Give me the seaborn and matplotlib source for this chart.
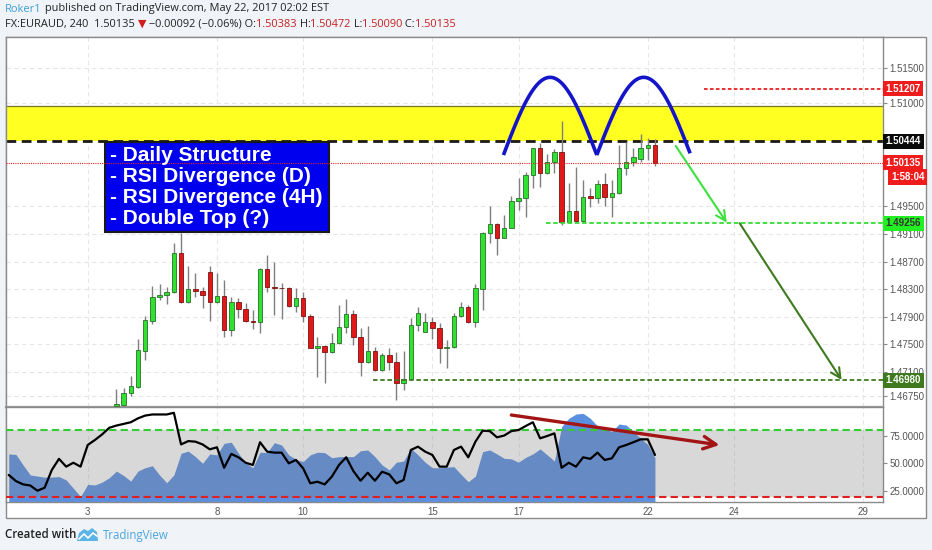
import numpy as np
import pandas as pd
import matplotlib
matplotlib.use("Agg")
import matplotlib.pyplot as plt
import matplotlib.transforms as mtransforms
from matplotlib.patches import Rectangle, Polygon
import seaborn as sns

W, H = 932, 550

# ---------------- data ----------------
first_candle_bar = 15
opens = [1.46608, 1.46622, 1.46792, 1.46887, 1.47409, 1.47844, 1.48183, 1.48216, 1.48260, 1.48829,
         1.48119, 1.48299, 1.48279, 1.48554, 1.48119, 1.48206, 1.47709, 1.48110, 1.48009, 1.47844,
         1.47821, 1.48589, 1.48337, 1.48322, 1.48313, 1.48057, 1.48168, 1.47912, 1.47452, 1.47481,
         1.47394, 1.47516, 1.47757, 1.47941, 1.47603, 1.47250, 1.47405, 1.47129, 1.47347, 1.47250,
         1.46945, 1.46999, 1.47781, 1.47684, 1.47821, 1.47734, 1.47444, 1.47467, 1.47912, 1.48038,
         1.47821, 1.48303, 1.49119, 1.49241, 1.49047, 1.49187, 1.49579, 1.49618, 1.49955, 1.50342,
         1.49980, 1.50148, 1.50293, 1.49270, 1.49438, 1.49293, 1.49651, 1.49618, 1.49825, 1.49632,
         1.49690, 1.50052, 1.50148, 1.50190, 1.50351, 1.50383]
highs = [1.46854, 1.46864, 1.47042, 1.47574, 1.47912, 1.48347, 1.48376, 1.48328, 1.48974, 1.49110,
         1.48637, 1.48539, 1.48328, 1.48637, 1.48539, 1.48434, 1.48192, 1.48168, 1.48096, 1.47999,
         1.48603, 1.48796, 1.48699, 1.48386, 1.48328, 1.48313, 1.48264, 1.47934, 1.47612, 1.47492,
         1.47661, 1.48071, 1.48163, 1.47999, 1.47734, 1.47767, 1.47467, 1.47371, 1.47444, 1.47394,
         1.47405, 1.47879, 1.48047, 1.47951, 1.47902, 1.47806, 1.47564, 1.47951, 1.48119, 1.48071,
         1.48371, 1.49130, 1.49506, 1.49255, 1.49376, 1.49644, 1.49908, 1.49999, 1.50347, 1.50415,
         1.50260, 1.50328, 1.50738, 1.49835, 1.50076, 1.49883, 1.49763, 1.49883, 1.49989, 1.49883,
         1.50390, 1.50438, 1.50342, 1.50550, 1.50487, 1.50472]
lows = [1.46521, 1.46550, 1.46752, 1.46868, 1.47274, 1.47796, 1.48144, 1.48086, 1.48238, 1.48096,
        1.48105, 1.48183, 1.48023, 1.47844, 1.48096, 1.47612, 1.47622, 1.47879, 1.47829, 1.47719,
        1.47661, 1.48264, 1.47926, 1.47864, 1.48042, 1.47974, 1.47829, 1.47444, 1.47032, 1.46937,
        1.47371, 1.47506, 1.47670, 1.47492, 1.47042, 1.47235, 1.47119, 1.47119, 1.47129, 1.46694,
        1.46839, 1.46984, 1.47699, 1.47680, 1.47574, 1.47235, 1.47154, 1.47450, 1.47897, 1.47815,
        1.47748, 1.47999, 1.48965, 1.48796, 1.49042, 1.49180, 1.49448, 1.49342, 1.49763, 1.49777,
        1.49966, 1.49989, 1.49231, 1.49255, 1.49279, 1.49279, 1.49496, 1.49545, 1.49506, 1.49351,
        1.49680, 1.49955, 1.50086, 1.50148, 1.50173, 1.50090]
closes = [1.46637, 1.46800, 1.46897, 1.47419, 1.47854, 1.48183, 1.48216, 1.48260, 1.48829, 1.48119,
          1.48299, 1.48279, 1.48216, 1.48119, 1.48202, 1.47709, 1.48110, 1.48009, 1.47844, 1.47821,
          1.48589, 1.48337, 1.48322, 1.48313, 1.48057, 1.48168, 1.47912, 1.47452, 1.47481, 1.47394,
          1.47516, 1.47757, 1.47941, 1.47603, 1.47250, 1.47405, 1.47129, 1.47347, 1.47250, 1.46945,
          1.46999, 1.47781, 1.47951, 1.47821, 1.47734, 1.47444, 1.47467, 1.47912, 1.48047, 1.47821,
          1.48313, 1.49119, 1.49241, 1.49047, 1.49187, 1.49579, 1.49618, 1.49955, 1.50342, 1.49989,
          1.50148, 1.50293, 1.49279, 1.49438, 1.49293, 1.49641, 1.49618, 1.49825, 1.49632, 1.49690,
          1.50052, 1.50148, 1.50212, 1.50351, 1.50383, 1.50135]

rsi_line = [39.5, 34, 31, 30, 25.3, 28, 44, 54, 47, 50.5,
            47, 66.5, 71, 76, 82, 84, 85.5, 87, 90.5, 93,
            94, 94, 94, 95.5, 67, 70, 69.5, 67, 62.6, 64.4,
            46, 58.4, 55.4, 50.5, 48.5, 69, 60.5, 59.6, 59.6, 50,
            53, 45.5, 32, 33.4, 31, 38, 48.5, 55.4, 43, 34.3,
            41.5, 34.3, 42.4, 40, 32, 35, 62, 65, 60.5, 57.5,
            47, 47, 62, 65, 55.4, 69.5, 79.4, 79, 73.4, 75,
            79, 80, 83.6, 87, 72.5, 74.6, 77, 46, 50.5, 47,
            55.4, 54, 59.6, 53, 54.5, 64.4, 66.5, 69, 71.6, 71.6,
            57.5]
rsi_area = [58.4, 58, 48.5, 39.5, 38.5, 37.5, 37.6, 38, 35, 27.5,
            20, 31, 30.5, 33, 37, 43, 39, 34, 43, 46,
            47.8, 39.5, 32.5, 39.5, 59, 61, 56, 50, 58.4, 57.6,
            68, 69, 59, 50.5, 46, 60, 59.6, 68.6, 66.5, 57.6,
            53.6, 51.5, 57.6, 60, 59.6, 55, 56, 56, 56, 61.3,
            62, 56, 48.5, 44, 51, 52, 63.5, 57.6, 51, 46,
            46, 46.5, 47, 40, 33.4, 38.5, 60.5, 62, 58.4, 54.5,
            54, 51, 55.4, 58.4, 63, 57.6, 52, 83, 90.5, 94.4,
            95, 90.5, 83.6, 81.5, 78.5, 85.4, 84.5, 78.5, 72.5, 67,
            55]

date_bars = [11, 29, 41, 59, 71, 89, 101, 119]
date_labels = ["3", "8", "10", "15", "17", "22", "24", "29"]
price_ticks = [1.515, 1.510, 1.495, 1.491, 1.487, 1.483, 1.479, 1.475, 1.471, 1.4675]
rsi_ticks = [25, 50, 75]
rsi_upper, rsi_lower = 80, 20

zone_low, zone_high = 1.50444, 1.50955
last_price = 1.50135
upper_level = 1.51207
neck_level = 1.49256
target_level = 1.46980
countdown = "1:58:04"

box_lines = ["- Daily Structure", "- RSI Divergence (D)", "- RSI Divergence (4H)", "- Double Top (?)"]

# ---------------- style ----------------
sns.set_style("white")
plt.rcParams['font.family'] = ['Liberation Sans', 'DejaVu Sans']

fig = plt.figure(figsize=(W / 100, H / 100), dpi=100)
fig.patch.set_facecolor('#f0f3f8')

frame = Rectangle((6 / W, 1 - 518 / H), (926 - 6) / W, (518 - 36.7) / H,
                  transform=fig.transFigure, facecolor='white', edgecolor='#8a8a8a',
                  lw=1, zorder=-10)
fig.add_artist(frame)

ax = fig.add_axes([6 / W, 1 - 406.7 / H, (882.7 - 6) / W, (406.7 - 36.7) / H])
axr = fig.add_axes([6 / W, 1 - 501.7 / H, (882.7 - 6) / W, (501.7 - 406.7) / H], sharex=ax)

xlim = (-0.38, 121.72)
ax.set_xlim(*xlim)
ax.set_ylim(1.46597, 1.51960)
axr.set_ylim(15.4, 101)

grid_kw = dict(color='#e6e6e6', lw=0.8, linestyle=(0, (4, 3)))
for a in (ax, axr):
    a.set_facecolor('white')
    a.set_axisbelow(True)
    for s in a.spines.values():
        s.set_color('#8a8a8a')
        s.set_linewidth(1)
    a.yaxis.tick_right()
    a.set_xticks(date_bars)
ax.spines['bottom'].set_linewidth(1.6)
ax.spines['bottom'].set_color('#9a9a9a')
ax.grid(True, **grid_kw)
axr.grid(True, axis='x', **grid_kw)

ax.set_yticks(price_ticks)
ax.set_yticklabels([f"{v:.5f}" for v in price_ticks])
ax.tick_params(axis='y', length=3, width=0.8, color='#888', pad=2, labelsize=7, labelcolor='#555')
ax.tick_params(axis='x', length=0, labelbottom=False)

axr.set_yticks(rsi_ticks)
axr.set_yticklabels([f"{v:.4f}" for v in rsi_ticks])
axr.tick_params(axis='y', length=3, width=0.8, color='#888', pad=2, labelsize=7, labelcolor='#555')
axr.set_xticklabels(date_labels)
axr.tick_params(axis='x', length=0, pad=4, labelsize=7, labelcolor='#555')

# ---------------- price pane ----------------
o = np.array(opens); h = np.array(highs); l = np.array(lows); c = np.array(closes)
xb = np.arange(len(o)) + first_candle_bar
up = c >= o
body_col = np.where(up, '#2fe22f', '#e01818')
edge_col = np.where(up, '#2b6e2b', '#7a1212')

ax.axhspan(zone_low, zone_high, color='#ffff22', zorder=1, lw=0)
ax.axhline(zone_high, color='#77772a', lw=0.9, zorder=1.2)
ax.axhline(zone_low, color='#1a1a1a', lw=2, linestyle=(0, (3.5, 2)), zorder=2)

ax.vlines(xb, l, h, color='#7f7f7f', lw=1, zorder=3)
ax.bar(xb, c - o, bottom=o, width=0.62, color=body_col, edgecolor=edge_col, lw=0.6, zorder=4)

# horizontal levels
ax.plot([96.8, xlim[1]], [upper_level, upper_level], color='#e52222', lw=1.3,
        linestyle=(0, (2, 1.3)), zorder=5)
ax.plot([74.8, xlim[1]], [neck_level, neck_level], color='#33dd33', lw=1.3,
        linestyle=(0, (2.5, 1.5)), zorder=5)
ax.plot([50.8, xlim[1]], [target_level, target_level], color='#3f7a1f', lw=1.3,
        linestyle=(0, (2.5, 1.5)), zorder=5)

# annotation box
box_x0, box_x1 = 13.41, 44.65
box_y0, box_y1 = 1.49125, 1.50438
ax.add_patch(Rectangle((box_x0, box_y0), box_x1 - box_x0, box_y1 - box_y0,
                       facecolor='#0000ee', edgecolor='#1a1a1a', lw=1.5, zorder=6))
ax.axhline(last_price, color='#e52222', lw=0.8, linestyle=(0, (1, 1)), zorder=7)
for i, line in enumerate(box_lines):
    ax.text(14.1, 1.50231 - i * 0.0030, line, color='white', fontsize=15,
            fontweight='bold', va='center', ha='left', zorder=8,
            family=['Liberation Sans', 'DejaVu Sans'])

# double top arcs
arc_x0 = [68.9, 81.9]
arc_x1 = [81.9, 94.9]
arc_y0 = [1.50245, 1.50245]
arc_y1 = [1.50245, 1.50270]
arc_top = 1.51371
for x0, x1, y0, y1 in zip(arc_x0, arc_x1, arc_y0, arc_y1):
    t = np.linspace(0, 1, 80)
    base = y0 + (y1 - y0) * t
    ys = base + (arc_top - (y0 + y1) / 2) * np.sin(np.pi * t)
    ax.plot(x0 + (x1 - x0) * t, ys, color='#1414c8', lw=2.6, zorder=9,
            solid_capstyle='butt')

# arrows
ax.annotate('', xy=(100.0, 1.49264), xytext=(92.9, 1.50376),
            arrowprops=dict(arrowstyle='->,head_length=0.7,head_width=0.35',
                            color='#3ee03e', lw=1.5, shrinkA=0, shrinkB=0), zorder=9)
ax.annotate('', xy=(116.0, 1.46985), xytext=(101.8, 1.49256),
            arrowprops=dict(arrowstyle='->,head_length=0.7,head_width=0.35',
                            color='#3f7a1f', lw=1.5, shrinkA=0, shrinkB=0), zorder=9)

# price tags on the right scale
tr = mtransforms.blended_transform_factory(ax.transAxes, ax.transData)


def price_tag(y, text, bg, fg='white', dy=0.0, dx=2.0):
    ax.annotate(text, xy=(1.0, y), xycoords=tr, xytext=(dx, dy), textcoords='offset points',
                ha='left', va='center', fontsize=7, color=fg, fontweight='bold',
                bbox=dict(boxstyle='square,pad=0.28', fc=bg, ec='none'),
                zorder=20, annotation_clip=False)


price_tag(upper_level, f"{upper_level:.5f}", '#f01c1c')
price_tag(zone_low, f"{zone_low:.5f}", '#0a0a0a')
price_tag(last_price, f"{last_price:.5f}", '#f01c1c')
price_tag(last_price, countdown, '#f01c1c', dy=-10.3, dx=6.0)
price_tag(neck_level, f"{neck_level:.5f}", '#22f022', fg='#333333')
price_tag(target_level, f"{target_level:.5f}", '#3f7a1f')

# ---------------- RSI pane ----------------
bars = np.arange(len(rsi_line))
rsi_df = pd.DataFrame({'bar': bars, 'rsi': rsi_line, 'area': rsi_area})
axr.fill_between(rsi_df['bar'], 15.4, rsi_df['area'], color='#5b8fe0', lw=0, zorder=1)
axr.axhspan(rsi_lower, rsi_upper, color='#808080', alpha=0.3, lw=0, zorder=2)
axr.axhline(rsi_upper, color='#33cc33', lw=1.5, linestyle=(0, (3.5, 2)), zorder=3)
axr.axhline(rsi_lower, color='#e02020', lw=1.5, linestyle=(0, (3.5, 2)), zorder=3)
sns.lineplot(data=rsi_df, x='bar', y='rsi', ax=axr, color='black', lw=1.6, zorder=4)
axr.set_xlabel('')
axr.set_ylabel('')
axr.set_xlim(*xlim)
axr.annotate('', xy=(99.0, 66.5), xytext=(70.0, 93.5),
             arrowprops=dict(arrowstyle='->,head_length=0.9,head_width=0.45',
                             color='#a31515', lw=2.4, shrinkA=0, shrinkB=0), zorder=6)

# ---------------- header / footer ----------------
renderer = fig.canvas.get_renderer()


def seq_text(x_px, y_px, pieces, **kw):
    x = x_px
    for s, col in pieces:
        t = fig.text(x / W, 1 - y_px / H, s, color=col, ha='left', va='center', **kw)
        x += t.get_window_extent(renderer).width


hdr_font = dict(fontsize=7.9, family=['Open Sans', 'DejaVu Sans'])
dark = '#222222'
red = '#c62020'
seq_text(5, 9, [("Roker1", '#3c9fd6'),
                (" published on TradingView.com, May 22, 2017 02:02 EST", dark)], **hdr_font)
seq_text(5, 24.5, [("FX:EURAUD, 240  1.50135 ", dark), ("\u25bc", '#d01c1c'),
                   (" \u22120.00092 (\u22120.06%) O:", dark), ("1.50383", red),
                   (" H:", dark), ("1.50472", red), (" L:", dark), ("1.50090", red),
                   (" C:", dark), ("1.50135", red)], **hdr_font)

fig.text(5 / W, 1 - 535 / H, "Created with", color='#222', fontsize=8.3,
         fontweight='semibold', family=['Open Sans', 'DejaVu Sans'], va='center', ha='left')
logo = Polygon([(77 / W, 1 - 541 / H), (79 / W, 1 - 533 / H), (84 / W, 1 - 529 / H),
                (88 / W, 1 - 531 / H), (92 / W, 1 - 528 / H), (97 / W, 1 - 532 / H),
                (98 / W, 1 - 541 / H)], closed=True, transform=fig.transFigure,
               facecolor='#5ab4e6', edgecolor='none')
fig.add_artist(logo)
fig.add_artist(plt.Line2D([79 / W, 84 / W, 88 / W, 93 / W, 97 / W],
                          [1 - 539 / H, 1 - 534 / H, 1 - 538 / H, 1 - 533 / H, 1 - 536 / H],
                          transform=fig.transFigure, color='white', lw=1.2))
fig.text(103 / W, 1 - 535 / H, "TradingView", color='#4aa6dc', fontsize=8.3,
         family=['Open Sans', 'DejaVu Sans'], va='center', ha='left')

fig.savefig('out.png', dpi=100, facecolor=fig.get_facecolor())
